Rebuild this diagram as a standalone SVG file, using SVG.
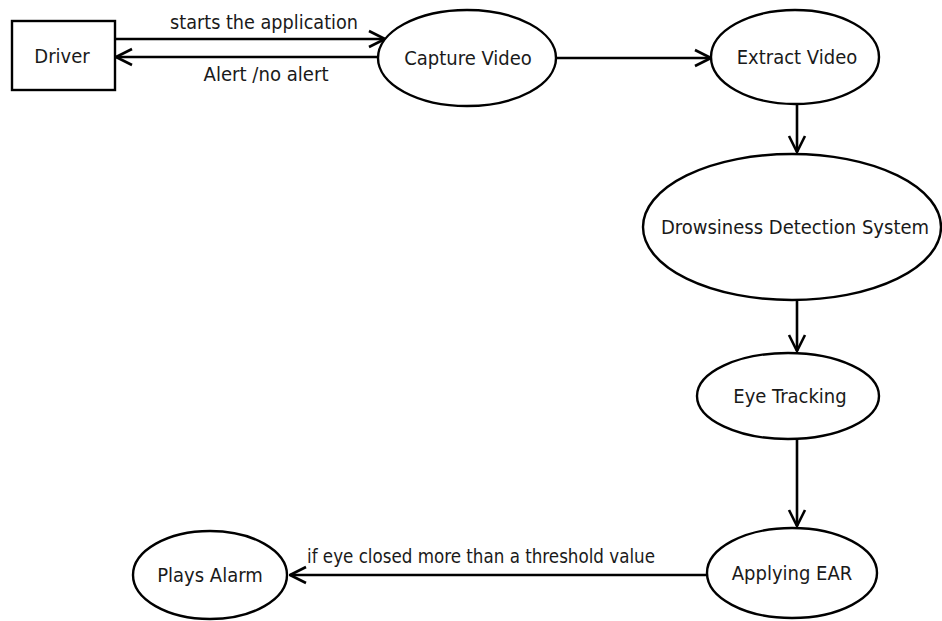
<svg xmlns="http://www.w3.org/2000/svg" width="942" height="621" viewBox="0 0 942 621">
<defs>
<style>
.n{fill:#fff;stroke:#000;stroke-width:2.4}
.t{font-family:"DejaVu Sans Condensed","DejaVu Sans",sans-serif;font-size:20px;fill:#1a1a1a;text-anchor:middle}
.e{fill:none;stroke:#000;stroke-width:2.6}
</style>
<marker id="a" viewBox="0 0 20 20" refX="19" refY="10" markerWidth="20" markerHeight="20" markerUnits="userSpaceOnUse" orient="auto">
<path d="M3 2 L19 10 L3 18" fill="none" stroke="#000" stroke-width="2.6"/>
</marker>
</defs>
<rect width="942" height="621" fill="#fff"/>
<g id="connectors">
<line class="e" x1="115" y1="39" x2="385" y2="39" marker-end="url(#a)"/>
<line class="e" x1="378" y1="57" x2="116" y2="57" marker-end="url(#a)"/>
<line class="e" x1="557" y1="58" x2="711" y2="58" marker-end="url(#a)"/>
<line class="e" x1="797" y1="105" x2="797" y2="152" marker-end="url(#a)"/>
<line class="e" x1="797" y1="300" x2="797" y2="351" marker-end="url(#a)"/>
<line class="e" x1="797" y1="439" x2="797" y2="526" marker-end="url(#a)"/>
<line class="e" x1="707" y1="575" x2="290" y2="575" marker-end="url(#a)"/>
<text class="t" x="264" y="29" textLength="188" lengthAdjust="spacingAndGlyphs">starts the application</text>
<text class="t" x="266" y="81" textLength="125" lengthAdjust="spacingAndGlyphs">Alert /no alert</text>
<text class="t" x="481" y="563" textLength="348" lengthAdjust="spacingAndGlyphs">if eye closed more than a threshold value</text>
</g>
<g id="driver"><rect class="n" x="12" y="21" width="103" height="69"/><text class="t" x="62" y="63">Driver</text></g>
<g id="capture"><ellipse class="n" cx="467" cy="58" rx="89" ry="48"/><text class="t" x="468" y="65">Capture Video</text></g>
<g id="extract"><ellipse class="n" cx="795" cy="57" rx="84" ry="47"/><text class="t" x="797" y="64">Extract Video</text></g>
<g id="drowsiness"><ellipse class="n" cx="792" cy="227" rx="149" ry="73"/><text class="t" x="795" y="234">Drowsiness Detection System</text></g>
<g id="eye"><ellipse class="n" cx="788" cy="396" rx="91" ry="43"/><text class="t" x="790" y="403">Eye Tracking</text></g>
<g id="ear"><ellipse class="n" cx="792" cy="573" rx="85" ry="45"/><text class="t" x="792" y="580">Applying EAR</text></g>
<g id="alarm"><ellipse class="n" cx="210" cy="575" rx="77" ry="44"/><text class="t" x="210" y="582">Plays Alarm</text></g>
</svg>
